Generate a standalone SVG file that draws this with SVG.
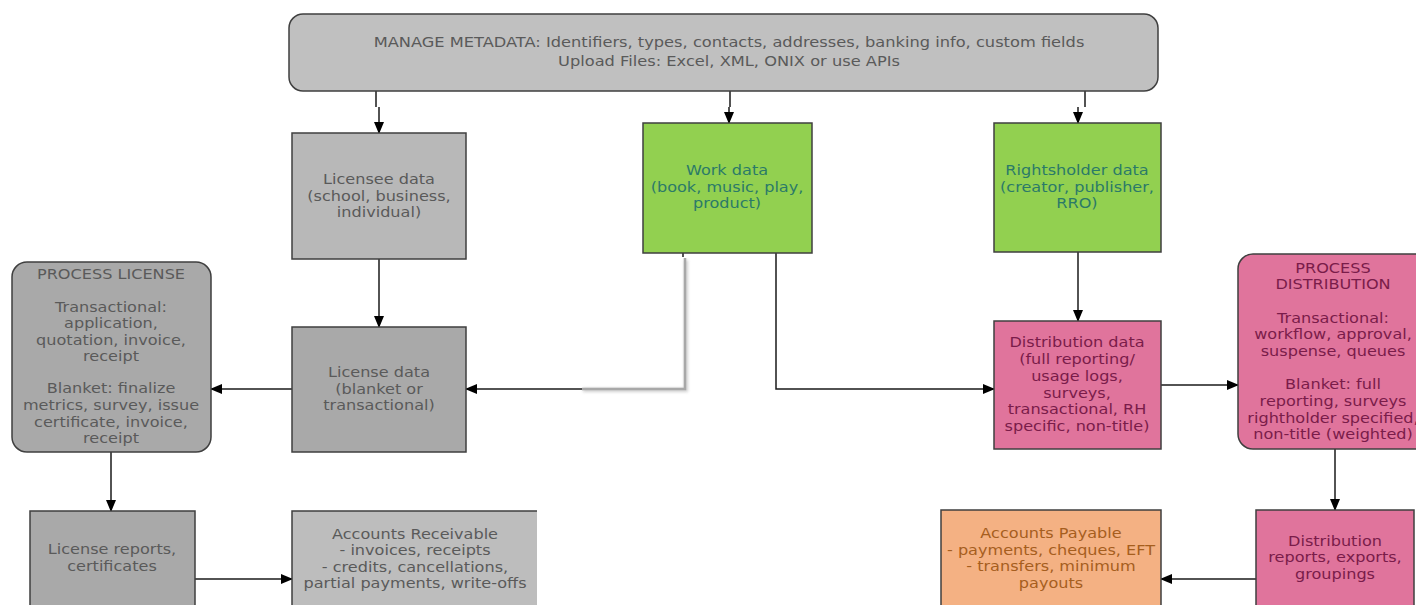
<svg xmlns="http://www.w3.org/2000/svg" width="1416" height="605" viewBox="0 0 1416 605">
<style>
text{font-family:"DejaVu Sans","Open Sans",sans-serif;font-size:14px;text-anchor:middle}
.box{stroke:#3f3f3f;stroke-width:1.5}
.gT{fill:#5a5a5a}
.grT{fill:#2b7a68}
.pT{fill:#7a1c4a}
.oT{fill:#a65e1e}
.ln{fill:none;stroke:#1a1a1a;stroke-width:1.5}
</style>
<defs>
<marker id="ah" markerUnits="userSpaceOnUse" markerWidth="12" markerHeight="10" refX="11" refY="5" orient="auto">
<path d="M0,0 L12,5 L0,10 Z" fill="#000"/>
</marker>
<filter id="sh" x="-20%" y="-20%" width="140%" height="140%">
<feGaussianBlur stdDeviation="1.5"/>
</filter>
</defs>
<rect width="1416" height="605" fill="#fff"/>

<g id="connectors">
<path class="ln" d="M376,91 V107"/>
<path class="ln" d="M379,107 V133" marker-end="url(#ah)"/>
<path class="ln" d="M730,91 V107"/>
<path class="ln" d="M729,107 V123" marker-end="url(#ah)"/>
<path class="ln" d="M1085,91 V107"/>
<path class="ln" d="M1078,107 V123" marker-end="url(#ah)"/>
<path class="ln" d="M379,259 V327" marker-end="url(#ah)"/>
<path class="ln" d="M292,389 H211" marker-end="url(#ah)"/>
<path class="ln" d="M111,452 V511" marker-end="url(#ah)"/>
<path class="ln" d="M195,579 H292" marker-end="url(#ah)"/>
<path class="ln" d="M683,253 V257"/>
<path d="M686,260 V390 H583" fill="none" stroke="#d0d0d0" stroke-width="4" filter="url(#sh)"/>
<path d="M685,258 V389 H582" fill="none" stroke="#a8a8a8" stroke-width="2.5"/>
<path class="ln" d="M582,389 H466" marker-end="url(#ah)"/>
<path class="ln" d="M776,253 V389 H994" marker-end="url(#ah)"/>
<path class="ln" d="M1078,252 V321" marker-end="url(#ah)"/>
<path class="ln" d="M1161,385 H1238" marker-end="url(#ah)"/>
<path class="ln" d="M1335,449 V510" marker-end="url(#ah)"/>
<path class="ln" d="M1256,579 H1161" marker-end="url(#ah)"/>
</g>

<g id="manage-metadata">
<rect class="box" x="289" y="14" width="869" height="77" rx="14" fill="#c0c0c0"/>
<g transform="translate(729 0) scale(1.16 1)">
<text class="gT" x="0" y="47">MANAGE METADATA: Identifiers, types, contacts, addresses, banking info, custom fields</text>
<text class="gT" x="0" y="66">Upload Files: Excel, XML, ONIX or use APIs</text>
</g>
</g>

<g id="licensee-data">
<rect class="box" x="292" y="133" width="174" height="126" fill="#b8b8b8"/>
<g transform="translate(379 0) scale(1.15 1)">
<text class="gT" x="0" y="184">Licensee data</text>
<text class="gT" x="0" y="201">(school, business,</text>
<text class="gT" x="0" y="217">individual)</text>
</g>
</g>

<g id="license-data">
<rect class="box" x="292" y="327" width="174" height="125" fill="#a9a9a9"/>
<g transform="translate(379 0) scale(1.15 1)">
<text class="gT" x="0" y="377">License data</text>
<text class="gT" x="0" y="394">(blanket or</text>
<text class="gT" x="0" y="410">transactional)</text>
</g>
</g>

<g id="process-license">
<rect class="box" x="12" y="262" width="199" height="190" rx="15" fill="#a9a9a9"/>
<g transform="translate(111 0) scale(1.15 1)">
<text class="gT" x="0" y="279">PROCESS LICENSE</text>
<text class="gT" x="0" y="312">Transactional:</text>
<text class="gT" x="0" y="328">application,</text>
<text class="gT" x="0" y="345">quotation, invoice,</text>
<text class="gT" x="0" y="361">receipt</text>
<text class="gT" x="0" y="393">Blanket: finalize</text>
<text class="gT" x="0" y="410">metrics, survey, issue</text>
<text class="gT" x="0" y="427">certificate, invoice,</text>
<text class="gT" x="0" y="443">receipt</text>
</g>
</g>

<g id="license-reports">
<rect class="box" x="30" y="511" width="165" height="110" fill="#a9a9a9"/>
<g transform="translate(112 0) scale(1.15 1)">
<text class="gT" x="0" y="554">License reports,</text>
<text class="gT" x="0" y="571">certificates</text>
</g>
</g>

<g id="accounts-receivable">
<rect x="292" y="511" width="245" height="110" fill="#bdbdbd"/>
<path class="box" d="M292,621 V511 H537" fill="none"/>
<g transform="translate(415 0) scale(1.15 1)">
<text class="gT" x="0" y="539">Accounts Receivable</text>
<text class="gT" x="0" y="555">- invoices, receipts</text>
<text class="gT" x="0" y="572">- credits, cancellations,</text>
<text class="gT" x="0" y="588">partial payments, write-offs</text>
</g>
</g>

<g id="work-data">
<rect class="box" x="643" y="123" width="169" height="130" fill="#92d050"/>
<g transform="translate(727 0) scale(1.15 1)">
<text class="grT" x="0" y="175">Work data</text>
<text class="grT" x="0" y="192">(book, music, play,</text>
<text class="grT" x="0" y="208">product)</text>
</g>
</g>

<g id="rightsholder-data">
<rect class="box" x="994" y="123" width="167" height="129" fill="#92d050"/>
<g transform="translate(1077 0) scale(1.15 1)">
<text class="grT" x="0" y="175">Rightsholder data</text>
<text class="grT" x="0" y="192">(creator, publisher,</text>
<text class="grT" x="0" y="208">RRO)</text>
</g>
</g>

<g id="distribution-data">
<rect class="box" x="994" y="321" width="167" height="128" fill="#e0749c"/>
<g transform="translate(1077 0) scale(1.15 1)">
<text class="pT" x="0" y="347">Distribution data</text>
<text class="pT" x="0" y="364">(full reporting/</text>
<text class="pT" x="0" y="381">usage logs,</text>
<text class="pT" x="0" y="398">surveys,</text>
<text class="pT" x="0" y="414">transactional, RH</text>
<text class="pT" x="0" y="431">specific, non-title)</text>
</g>
</g>

<g id="process-distribution">
<rect class="box" x="1238" y="254" width="192" height="195" rx="15" fill="#e0749c"/>
<g transform="translate(1333 0) scale(1.15 1)">
<text class="pT" x="0" y="273">PROCESS</text>
<text class="pT" x="0" y="289">DISTRIBUTION</text>
<text class="pT" x="0" y="323">Transactional:</text>
<text class="pT" x="0" y="339">workflow, approval,</text>
<text class="pT" x="0" y="356">suspense, queues</text>
<text class="pT" x="0" y="389">Blanket: full</text>
<text class="pT" x="0" y="406">reporting, surveys</text>
<text class="pT" x="0" y="423">rightholder specified,</text>
<text class="pT" x="0" y="439">non-title (weighted)</text>
</g>
</g>

<g id="distribution-reports">
<rect class="box" x="1256" y="510" width="158" height="110" fill="#e0749c"/>
<g transform="translate(1335 0) scale(1.15 1)">
<text class="pT" x="0" y="546">Distribution</text>
<text class="pT" x="0" y="562">reports, exports,</text>
<text class="pT" x="0" y="579">groupings</text>
</g>
</g>

<g id="accounts-payable">
<rect class="box" x="941" y="510" width="220" height="110" fill="#f4b183"/>
<g transform="translate(1051 0) scale(1.15 1)">
<text class="oT" x="0" y="538">Accounts Payable</text>
<text class="oT" x="0" y="555">- payments, cheques, EFT</text>
<text class="oT" x="0" y="571">- transfers, minimum</text>
<text class="oT" x="0" y="588">payouts</text>
</g>
</g>
</svg>
